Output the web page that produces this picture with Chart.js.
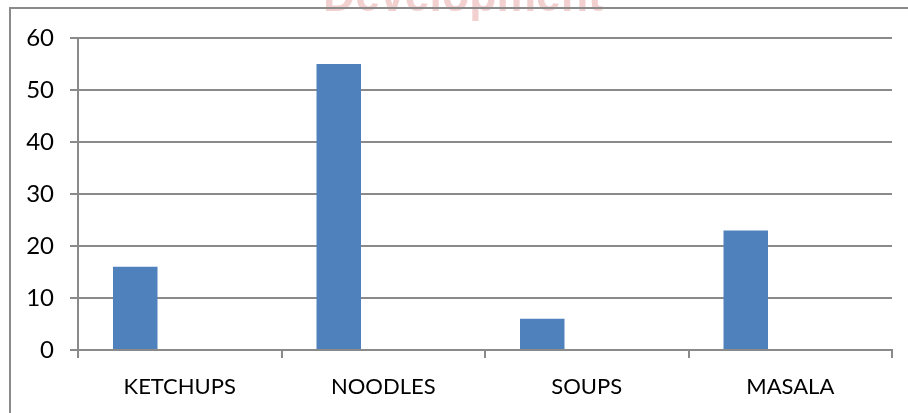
<!DOCTYPE html>
<html>
<head>
<meta charset="utf-8">
<script src="https://cdn.jsdelivr.net/npm/chart.js@4.4.1/dist/chart.umd.min.js"></script>
<style>
  html, body { margin: 0; padding: 0; background: #fff; }
  #wrap { width: 908px; height: 413px; position: relative; }
</style>
</head>
<body>
<div id="wrap"><canvas id="chart"></canvas></div>
<script>
// Sales by product line
const categories = ["KETCHUPS", "NOODLES", "SOUPS", "MASALA"]
const salesValues = [16, 55, 6, 23]
const yTicks = [0, 10, 20, 30, 40, 50, 60]

const gridGray = "#8a8a8a"
const fontFamily = "Lato, 'Liberation Sans', sans-serif"

// outer frame plus the faint heading mark above the plot
const framePlugin = {
  id: "frame",
  beforeDraw(chart) {
    const ctx = chart.ctx
    ctx.save()
    ctx.fillStyle = "#fff"
    ctx.fillRect(0, 0, chart.width, chart.height)

    ctx.fillStyle = "rgba(214, 110, 110, 0.32)"
    ctx.font = "bold 50px 'Liberation Sans Narrow', 'Liberation Sans', sans-serif"
    ctx.textAlign = "center"
    ctx.textBaseline = "alphabetic"
    ctx.fillText("Development", 463, 11, 280)

    ctx.strokeStyle = gridGray
    ctx.lineWidth = 2
    ctx.strokeRect(10, 8, chart.width + 20, chart.height + 20)
    ctx.restore()
  }
}

new Chart(document.getElementById("chart"), {
  type: "bar",
  data: {
    labels: categories,
    datasets: [
      { label: "Sales", data: salesValues, backgroundColor: "#4f81bd" },
      // two empty series keep the Excel-style slot spacing
      { label: "", data: categories.map(() => null), backgroundColor: "#c0504d" },
      { label: "", data: categories.map(() => null), backgroundColor: "#9bbb59" }
    ]
  },
  plugins: [framePlugin],
  options: {
    responsive: true,
    maintainAspectRatio: false,
    animation: false,
    layout: { padding: { top: 38, right: 16, left: 0, bottom: 0 } },
    datasets: { bar: { categoryPercentage: 0.656, barPercentage: 1.0 } },
    plugins: {
      legend: { display: false },
      tooltip: { enabled: false }
    },
    scales: {
      x: {
        grid: {
          offset: true,
          drawOnChartArea: false,
          drawTicks: true,
          tickLength: 8,
          color: gridGray,
          lineWidth: 2
        },
        border: { color: gridGray, width: 2 },
        ticks: { color: "#000", font: { family: fontFamily, size: 22 }, padding: 16, maxRotation: 0 },
        afterFit(scale) { scale.height = 63 }
      },
      y: {
        min: 0,
        max: 60,
        afterBuildTicks(scale) { scale.ticks = yTicks.map(v => ({ value: v })) },
        grid: { color: gridGray, lineWidth: 2, tickLength: 8 },
        border: { color: gridGray, width: 2 },
        ticks: { color: "#000", font: { family: fontFamily, size: 24 }, padding: 16 },
        afterFit(scale) { scale.width = 78 }
      }
    }
  }
})
</script>
</body>
</html>
